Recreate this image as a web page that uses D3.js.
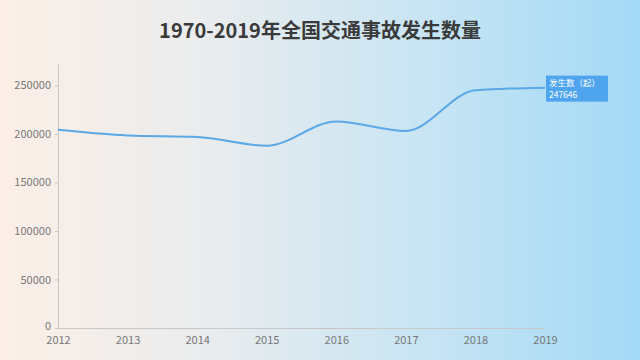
<!DOCTYPE html>
<html>
<head>
<meta charset="utf-8">
<script src="https://cdn.jsdelivr.net/npm/d3@7"></script>
<style>
  html, body { margin: 0; padding: 0; }
  body { width: 640px; height: 360px; overflow: hidden; }
  text { font-family: "Noto Sans CJK SC", "Noto Sans", sans-serif; }
</style>
</head>
<body>
<div id="chart"></div>
<script>
const years = ["2012", "2013", "2014", "2015", "2016", "2017", "2018", "2019"];
const accidents = [204196, 198394, 196812, 187781, 212846, 203049, 244937, 247646];
const yTicks = [0, 50000, 100000, 150000, 200000, 250000];
const seriesName = "发生数（起）";
const title = "1970-2019年全国交通事故发生数量";

const W = 640, H = 360;
const margin = { top: 64, right: 95, bottom: 32, left: 58 };
const width = W - margin.left - margin.right,
  height = H - margin.top - margin.bottom;

const svg = d3.select("#chart").append("svg")
  .attr("width", W).attr("height", H);

// background gradient
const defs = svg.append("defs");
const grad = defs.append("linearGradient").attr("id", "bg")
  .attr("x1", "0%").attr("x2", "100%").attr("y1", "0%").attr("y2", "0%");
grad.append("stop").attr("offset", "0%").attr("stop-color", "#fcefe6");
grad.append("stop").attr("offset", "33%").attr("stop-color", "#e9ecee");
grad.append("stop").attr("offset", "68%").attr("stop-color", "#c6e4f4");
grad.append("stop").attr("offset", "100%").attr("stop-color", "#a3d9f6");
svg.append("rect").attr("width", W).attr("height", H).attr("fill", "url(#bg)");

// title
svg.append("text")
  .attr("x", W / 2).attr("y", 38)
  .attr("text-anchor", "middle")
  .attr("font-size", 20).attr("font-weight", "bold")
  .attr("fill", "#3a3a3a")
  .text(title);

const g = svg.append("g").attr("transform", `translate(${margin.left},${margin.top})`);

const x = d3.scalePoint().domain(years).range([0, width]);
const y = d3.scaleLinear().domain([0, 272000]).range([height, 0]);

// x axis
const xAxis = g.append("g").attr("transform", `translate(0,${height})`)
  .call(d3.axisBottom(x).tickSize(0).tickPadding(8));
xAxis.select(".domain").attr("stroke", "#c8c8c8");
xAxis.selectAll("text").attr("fill", "#777").attr("font-size", 11);

// y axis
const yAxis = g.append("g")
  .call(d3.axisLeft(y).tickValues(yTicks).tickFormat(d3.format("d"))
    .tickSize(3).tickPadding(4).tickSizeOuter(0));
yAxis.select(".domain").attr("stroke", "#c8c8c8");
yAxis.selectAll(".tick line").attr("stroke", "#c8c8c8");
yAxis.selectAll("text").attr("fill", "#777").attr("font-size", 11);
yAxis.selectAll(".tick text").filter(d => d === 0).attr("dy", "0.1em");

// line
const line = d3.line()
  .x((d, i) => x(years[i]))
  .y(d => y(d))
  .curve(d3.curveMonotoneX);

g.append("path")
  .datum(accidents)
  .attr("fill", "none")
  .attr("stroke", "#5aa8e6")
  .attr("stroke-width", 2)
  .attr("d", line);

// end label
const last = accidents.length - 1;
const lx = x(years[last]) + 1, ly = y(accidents[last]) - 12;
const label = g.append("g").attr("transform", `translate(${lx},${ly})`);
label.append("rect")
  .attr("width", 62).attr("height", 26)
  .attr("fill", "#4ea5ee");
label.append("text").attr("x", 3).attr("y", 10)
  .attr("font-size", 8.5).attr("fill", "#fff").text(seriesName);
label.append("text").attr("x", 3).attr("y", 22)
  .attr("font-size", 8.5).attr("fill", "#fff").text(accidents[last]);
</script>
</body>
</html>
